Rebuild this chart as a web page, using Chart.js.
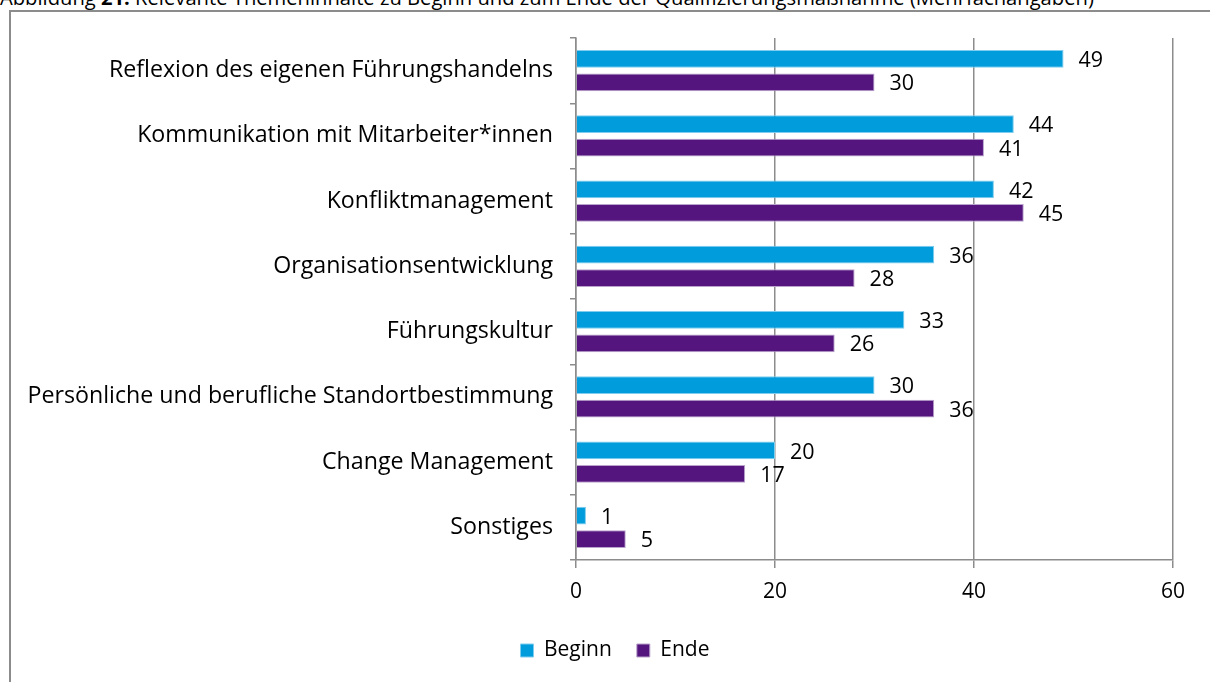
<!DOCTYPE html>
<html>
<head>
<meta charset="utf-8">
<script src="https://cdn.jsdelivr.net/npm/chart.js@4"></script>
<style>
  html, body { margin: 0; padding: 0; background: #fff; overflow: hidden; }
  #caption {
    position: absolute; left: 0; top: -17px; white-space: nowrap;
    font-family: "Open Sans", sans-serif; font-size: 20.2px; color: #000;
  }
  #frame {
    position: absolute; left: 9px; top: 10px; width: 1230px; height: 700px;
    border: 2px solid #8c8c8c; box-sizing: border-box;
  }
  #wrap { position: absolute; left: 0; top: 0; width: 1210px; height: 682px; }
</style>
</head>
<body>
<div id="caption">Abbildung <b>21:</b> Relevante Themeninhalte zu Beginn und zum Ende der Qualifizierungsmaßnahme (Mehrfachangaben)</div>
<div id="frame"></div>
<div id="wrap"><canvas id="chart" width="1210" height="682"></canvas></div>
<script>
const categories = [
  "Reflexion des eigenen Führungshandelns",
  "Kommunikation mit Mitarbeiter*innen",
  "Konfliktmanagement",
  "Organisationsentwicklung",
  "Führungskultur",
  "Persönliche und berufliche Standortbestimmung",
  "Change Management",
  "Sonstiges"
];
const beginnValues = [49, 44, 42, 36, 33, 30, 20, 1];
const endeValues = [30, 41, 45, 28, 26, 36, 17, 5];
const xTicks = [0, 20, 40, 60];

const FONT = "'Open Sans', sans-serif";
const gridGrey = "#8c8c8c";

// value labels right of each bar
const valueLabels = {
  id: "valueLabels",
  afterDatasetsDraw(chart) {
    const ctx = chart.ctx;
    ctx.save();
    ctx.font = "21.5px " + FONT;
    ctx.fillStyle = "#000";
    ctx.textAlign = "left";
    ctx.textBaseline = "middle";
    chart.data.datasets.forEach((ds, i) => {
      chart.getDatasetMeta(i).data.forEach((bar, j) => {
        ctx.fillText(String(ds.data[j]), bar.x + 15, bar.y + 2);
      });
    });
    ctx.restore();
  }
};

// legend in the original sits a bit right of the canvas centre
const shiftLegend = {
  id: "shiftLegend",
  afterLayout(chart) {
    if (chart.legend) chart.legend.left += 57;
  }
};

new Chart(document.getElementById("chart"), {
  type: "bar",
  data: {
    labels: categories,
    datasets: [
      {
        label: "Beginn",
        data: beginnValues,
        backgroundColor: "#009cdc",
        borderColor: "#7fcdee",
        borderWidth: 1,
        categoryPercentage: 0.72,
        barPercentage: 0.75
      },
      {
        label: "Ende",
        data: endeValues,
        backgroundColor: "#55157f",
        borderColor: "#b9a4cc",
        borderWidth: 1,
        categoryPercentage: 0.72,
        barPercentage: 0.75
      }
    ]
  },
  options: {
    indexAxis: "y",
    responsive: false,
    animation: false,
    devicePixelRatio: 1,
    layout: { padding: { left: 0, top: 38, right: 37, bottom: 11 } },
    plugins: {
      tooltip: { enabled: false },
      legend: {
        position: "bottom",
        labels: {
          boxWidth: 13,
          boxHeight: 13,
          padding: 25,
          color: "#000",
          font: { family: FONT, size: 21 }
        }
      }
    },
    scales: {
      x: {
        min: 0,
        max: 60,
        afterBuildTicks(scale) {
          scale.ticks = xTicks.map(v => ({ value: v }));
        },
        afterFit(scale) { scale.height = 55; },
        grid: { color: gridGrey, lineWidth: 1.5, tickLength: 8 },
        border: { color: gridGrey, width: 1.5 },
        ticks: { color: "#000", padding: 11, font: { family: FONT, size: 21 } }
      },
      y: {
        afterFit(scale) { scale.width = 576; },
        grid: { drawOnChartArea: false, color: gridGrey, lineWidth: 1.5, tickLength: 6, offset: true },
        border: { color: gridGrey, width: 1.5 },
        ticks: { color: "#000", padding: 17, font: { family: FONT, size: 23.2 } }
      }
    }
  },
  plugins: [valueLabels, shiftLegend]
});
</script>
</body>
</html>
